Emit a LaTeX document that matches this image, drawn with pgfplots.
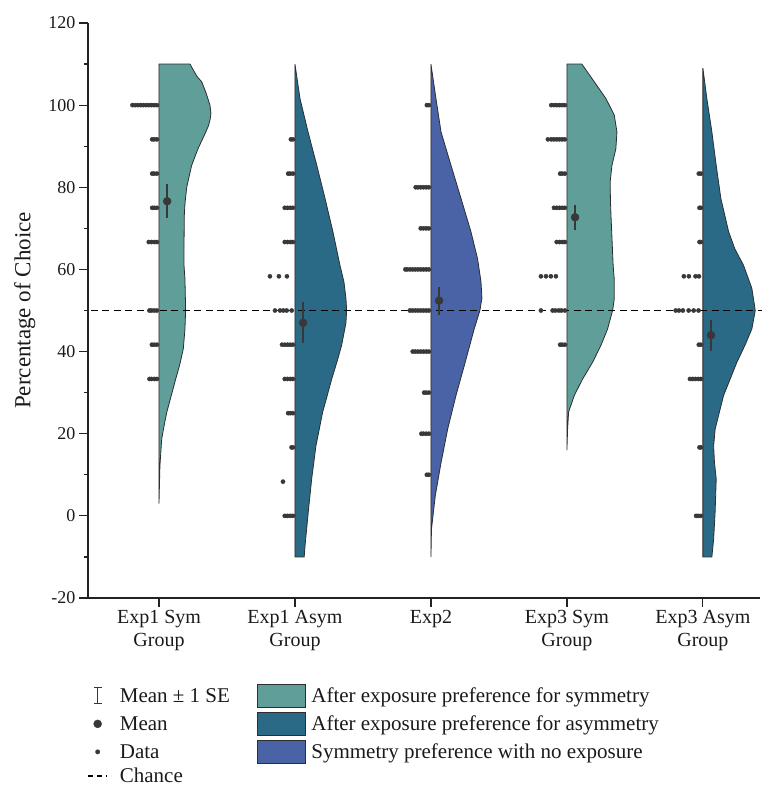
\documentclass[border=0pt]{standalone}
\usepackage{fontspec}
\setmainfont{Liberation Serif}
\usepackage{pgfplots}
\pgfplotsset{compat=1.18}

\definecolor{symcol}{HTML}{609E99}
\definecolor{asymcol}{HTML}{2A6A86}
\definecolor{noexp}{HTML}{4A63A7}
\definecolor{outl}{HTML}{2E2E2E}
\definecolor{dotcol}{HTML}{383838}
\definecolor{axcol}{HTML}{222222}
\definecolor{txtcol}{HTML}{1A1A1A}

\newcommand\yfont{\fontsize{18bp}{20bp}\selectfont}
\newcommand\xfont{\fontsize{20bp}{23bp}\selectfont}
\newcommand\labfont{\fontsize{23bp}{26bp}\selectfont}
\newcommand\legfont{\fontsize{21bp}{24bp}\selectfont}

\pgfplotsset{
  violin/.style={forget plot, draw=outl, line width=0.8bp},
  dots/.style={forget plot, only marks, mark=*, mark size=2.1bp,
    mark options={draw=dotcol, fill=dotcol, line width=0.4bp}},
}

\begin{document}
\begin{tikzpicture}
\begin{axis}[
  scale only axis, width=672bp, height=575bp,
  xmin=0.478, xmax=5.42, ymin=-20, ymax=120,
  axis x line*=bottom, axis y line*=left,
  axis line style={line width=1.4bp, color=axcol},
  xtick={1,...,5},
  xticklabels={{Exp1 Sym\\Group},{Exp1 Asym\\Group},{Exp2},{Exp3 Sym\\Group},{Exp3 Asym\\Group}},
  xticklabel style={align=center, font=\xfont, text=txtcol},
  ytick={-20,0,...,120}, minor y tick num=1,
  yticklabel style={font=\yfont, text=txtcol},
  tick align=outside, major tick length=9bp, minor tick length=4bp,
  tick style={line width=1.2bp, color=axcol},
  /pgf/number format/assume math mode=true,
  ylabel={Percentage of Choice},
  ylabel style={font=\labfont, text=txtcol, at={(axis description cs:-0.094,0.5)}, anchor=center},
  clip=false,
  legend columns=2, legend cell align=left,
  legend style={draw=none, fill=none, inner sep=0pt, row sep=4bp, column sep=0pt,
    nodes={inner sep=0pt, font=\legfont, text=txtcol},
    at={(axis description cs:-0.001,-0.149)}, anchor=north west},
]
% half violins
\addplot[violin, fill=symcol] coordinates {
(1,110) (1.228,110) (1.279,107) (1.314,105.7) (1.346,103) (1.375,100) (1.382,98)
(1.376,96.5) (1.364,95) (1.338,93) (1.287,89.4) (1.240,85.3) (1.204,80) (1.191,76)
(1.186,73) (1.184,65) (1.184,61) (1.191,57.7) (1.196,50) (1.191,45.5) (1.179,40.7)
(1.154,37) (1.123,33.3) (1.088,29) (1.057,25.2) (1.035,21.5) (1.020,18.7) (1.007,12.2) (1,3)
} -- cycle;
\addplot[violin, fill=asymcol] coordinates {
(2,110) (2.037,101.6) (2.096,93.5) (2.160,85.4) (2.221,77.3) (2.279,69.2) (2.331,61)
(2.360,57) (2.375,53) (2.380,50) (2.375,47) (2.343,41.5) (2.309,37.5) (2.270,33.3)
(2.235,29) (2.204,25.3) (2.154,17) (2.123,9) (2.098,1) (2.074,-7.3) (2.068,-10) (2,-10)
} -- cycle;
\addplot[violin, fill=noexp] coordinates {
(3,110) (3.037,101.6) (3.074,93.5) (3.147,85.4) (3.221,77.3) (3.294,69.2) (3.343,62.6)
(3.368,57) (3.375,53) (3.360,50) (3.318,45.5) (3.252,37.4) (3.184,29.3) (3.123,21.1)
(3.074,12.9) (3.032,4.9) (3.004,-3.2) (3,-10)
} -- cycle;
\addplot[violin, fill=symcol] coordinates {
(4,110) (4.110,110) (4.201,105.7) (4.287,101.6) (4.348,97.6) (4.368,93.5) (4.360,89.4)
(4.331,85.3) (4.318,81.3) (4.320,77) (4.324,73.2) (4.340,61) (4.348,57.7) (4.348,52.8)
(4.336,50) (4.299,45.5) (4.250,41.5) (4.189,37.4) (4.115,33.3) (4.054,29.3) (4.0125,25.3)
(4.005,21.1) (4,16)
} -- cycle;
\addplot[violin, fill=asymcol] coordinates {
(5,109) (5.029,101.6) (5.066,93.5) (5.098,85.3) (5.132,77.3) (5.189,69.2) (5.235,65)
(5.299,61) (5.360,55.4) (5.385,50) (5.360,45.5) (5.309,41.5) (5.250,37.4) (5.152,29.3)
(5.090,21.1) (5.079,17) (5.085,13) (5.098,9) (5.090,1) (5.079,-5.7) (5.066,-10) (5,-10)
} -- cycle;

% individual data
\addplot[dots] coordinates {
(0.985,100) (0.965,100) (0.945,100) (0.925,100) (0.905,100) (0.885,100) (0.865,100) (0.845,100) (0.825,100) (0.805,100)
(0.985,91.67) (0.965,91.67) (0.95,91.67)
(0.985,83.33) (0.965,83.33) (0.95,83.33)
(0.985,75) (0.965,75) (0.95,75)
(0.985,66.67) (0.965,66.67) (0.945,66.67) (0.925,66.67)
(0.985,50) (0.965,50) (0.945,50) (0.93,50)
(0.985,41.67) (0.965,41.67) (0.948,41.67)
(0.985,33.33) (0.965,33.33) (0.945,33.33) (0.93,33.33)
};
\addplot[dots] coordinates {
(1.985,91.67) (1.97,91.67)
(1.985,83.33) (1.965,83.33) (1.95,83.33)
(1.985,75) (1.965,75) (1.945,75) (1.925,75)
(1.985,66.67) (1.965,66.67) (1.945,66.67) (1.925,66.67)
(1.816,58.33) (1.882,58.33) (1.941,58.33)
(1.853,50) (1.89,50) (1.914,50) (1.939,50) (1.976,50)
(1.985,41.67) (1.965,41.67) (1.945,41.67) (1.925,41.67) (1.905,41.67)
(1.985,33.33) (1.965,33.33) (1.945,33.33) (1.925,33.33)
(1.985,25) (1.965,25) (1.95,25)
(1.985,16.67) (1.975,16.67)
(1.912,8.33)
(1.985,0) (1.965,0) (1.945,0) (1.925,0)
};
\addplot[dots] coordinates {
(2.985,100) (2.97,100)
(2.985,80) (2.965,80) (2.945,80) (2.925,80) (2.905,80) (2.888,80)
(2.985,70) (2.965,70) (2.945,70) (2.925,70)
(2.985,60) (2.965,60) (2.945,60) (2.925,60) (2.905,60) (2.885,60) (2.865,60) (2.845,60) (2.825,60) (2.812,60)
(2.985,50) (2.965,50) (2.945,50) (2.925,50) (2.905,50) (2.885,50) (2.865,50) (2.845,50)
(2.985,40) (2.965,40) (2.945,40) (2.925,40) (2.905,40) (2.885,40) (2.866,40)
(2.985,30) (2.965,30) (2.95,30)
(2.985,20) (2.965,20) (2.945,20) (2.93,20)
(2.985,10) (2.97,10)
};
\addplot[dots] coordinates {
(3.985,100) (3.965,100) (3.945,100) (3.925,100) (3.905,100) (3.885,100)
(3.985,91.67) (3.965,91.67) (3.945,91.67) (3.925,91.67) (3.905,91.67) (3.885,91.67) (3.86,91.67)
(3.985,83.33) (3.965,83.33) (3.95,83.33)
(3.985,75) (3.965,75) (3.945,75) (3.925,75) (3.905,75)
(3.985,66.67) (3.965,66.67) (3.945,66.67) (3.925,66.67)
(3.809,58.33) (3.846,58.33) (3.882,58.33) (3.919,58.33)
(3.809,50) (3.895,50) (3.915,50) (3.94,50) (3.96,50) (3.985,50)
(3.985,41.67) (3.965,41.67) (3.95,41.67)
};
\addplot[dots] coordinates {
(4.985,83.33) (4.97,83.33)
(4.985,75) (4.975,75)
(4.985,66.67) (4.975,66.67)
(4.86,58.33) (4.897,58.33) (4.946,58.33) (4.971,58.33)
(4.8,50) (4.824,50) (4.853,50) (4.895,50) (4.932,50) (4.968,50)
(4.985,41.67) (4.97,41.67)
(4.985,33.33) (4.965,33.33) (4.945,33.33) (4.925,33.33) (4.905,33.33)
(4.985,16.67) (4.975,16.67)
(4.985,0) (4.965,0) (4.95,0)
};

% chance level
\addplot[forget plot, black, dash pattern=on 7bp off 4.5bp, line width=1.6bp] coordinates {(0.5,50) (5.434,50)};

% mean +- 1 SE
\addplot[forget plot, only marks, mark=*, mark size=4bp, color=dotcol,
  error bars/.cd, y dir=both, y explicit, error mark=none,
  error bar style={line width=1.8bp, dotcol}] coordinates {
(1.06,76.6) +- (0,4.1)
(2.06,47.0) +- (0,5.0)
(3.06,52.4) +- (0,3.4)
(4.06,72.7) +- (0,3.1)
(5.06,44.0) +- (0,3.8)
};

% legend
\addlegendimage{legend image code/.code={
  \draw[line width=1bp, dotcol] (0,-8bp) -- (0,8bp) (-4bp,-8bp) -- (4bp,-8bp) (-4bp,8bp) -- (4bp,8bp);
  \path (-9.5bp,0) (22bp,0);}}
\addlegendentry{Mean ± 1 SE}
\addlegendimage{legend image code/.code={\path (-27bp,0) (54bp,0);
  \draw[line width=1bp, draw=outl, fill=symcol] (0,-11.5bp) rectangle (48bp,11.5bp);}}
\addlegendentry{After exposure preference for symmetry}
\addlegendimage{legend image code/.code={
  \fill[dotcol] (0,0) circle (4bp);
  \path (-9.5bp,0) (22bp,0);}}
\addlegendentry{Mean}
\addlegendimage{legend image code/.code={\path (-27bp,0) (54bp,0);
  \draw[line width=1bp, draw=outl, fill=asymcol] (0,-11.5bp) rectangle (48bp,11.5bp);}}
\addlegendentry{After exposure preference for asymmetry}
\addlegendimage{legend image code/.code={
  \fill[dotcol] (0,0) circle (2.2bp);
  \path (-9.5bp,0) (22bp,0);}}
\addlegendentry{Data}
\addlegendimage{legend image code/.code={\path (-27bp,0) (54bp,0);
  \draw[line width=1bp, draw=outl, fill=noexp] (0,-11.5bp) rectangle (48bp,11.5bp);}}
\addlegendentry{Symmetry preference with no exposure}
\addlegendimage{legend image code/.code={
  \draw[black, line width=1.3bp, dash pattern=on 5bp off 4bp] (-9.5bp,0) -- (9.5bp,0);
  \path (-9.5bp,0) (22bp,0);}}
\addlegendentry{Chance}
\end{axis}
\path (current axis.south west) ++(-88bp,-188bp) rectangle ++(762bp,786bp);
\end{tikzpicture}
\end{document}
